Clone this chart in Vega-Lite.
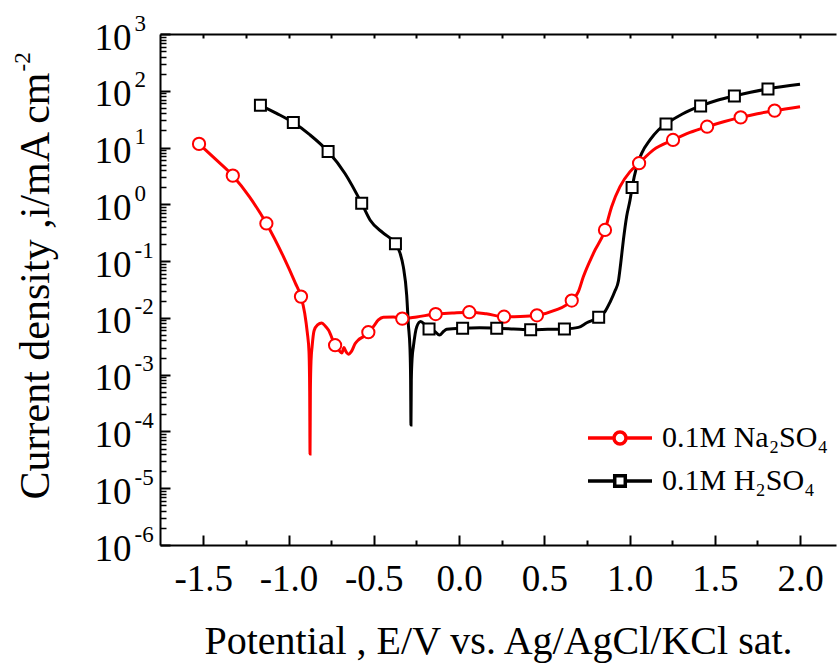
{
  "$schema": "https://vega.github.io/schema/vega-lite/v6.json",
  "width": 676,
  "height": 511,
  "autosize": {"type": "none"},
  "padding": {"left": 160, "top": 34, "right": 1, "bottom": 121},
  "background": "white",
  "config": {
    "view": {"stroke": null},
    "font": "Liberation Serif",
    "axis": {
      "grid": false,
      "domainColor": "black",
      "tickColor": "black",
      "labelColor": "black",
      "titleColor": "black",
      "labelFont": "Liberation Serif",
      "titleFont": "Liberation Serif",
      "titleFontWeight": "normal",
      "domainWidth": 2,
      "tickWidth": 2,
      "labelFlush": false,
      "labelOverlap": false
    },
    "legend": {"labelFont": "Liberation Serif", "labelColor": "black"}
  },
  "data": {
    "values": [
      {"s": "Na", "E": -1.525, "i": 11.6, "m": 1},
      {"s": "Na", "E": -1.43, "i": 6.3, "m": 0},
      {"s": "Na", "E": -1.327, "i": 3.2, "m": 1},
      {"s": "Na", "E": -1.23, "i": 1.37, "m": 0},
      {"s": "Na", "E": -1.13, "i": 0.46, "m": 1},
      {"s": "Na", "E": -1.03, "i": 0.12, "m": 0},
      {"s": "Na", "E": -0.96, "i": 0.041, "m": 0},
      {"s": "Na", "E": -0.927, "i": 0.0237, "m": 1},
      {"s": "Na", "E": -0.905, "i": 0.012, "m": 0},
      {"s": "Na", "E": -0.89, "i": 0.0055, "m": 0},
      {"s": "Na", "E": -0.88, "i": 0.0025, "m": 0},
      {"s": "Na", "E": -0.876, "i": 0.0005, "m": 0},
      {"s": "Na", "E": -0.874, "i": 0.00004, "m": 0},
      {"s": "Na", "E": -0.872, "i": 0.0005, "m": 0},
      {"s": "Na", "E": -0.868, "i": 0.0018, "m": 0},
      {"s": "Na", "E": -0.862, "i": 0.0031, "m": 0},
      {"s": "Na", "E": -0.85, "i": 0.006, "m": 0},
      {"s": "Na", "E": -0.83, "i": 0.0075, "m": 0},
      {"s": "Na", "E": -0.805, "i": 0.0081, "m": 0},
      {"s": "Na", "E": -0.785, "i": 0.0072, "m": 0},
      {"s": "Na", "E": -0.766, "i": 0.0061, "m": 0},
      {"s": "Na", "E": -0.727, "i": 0.0033, "m": 1},
      {"s": "Na", "E": -0.705, "i": 0.0027, "m": 0},
      {"s": "Na", "E": -0.688, "i": 0.0024, "m": 0},
      {"s": "Na", "E": -0.675, "i": 0.003, "m": 0},
      {"s": "Na", "E": -0.665, "i": 0.0026, "m": 0},
      {"s": "Na", "E": -0.649, "i": 0.0023, "m": 0},
      {"s": "Na", "E": -0.63, "i": 0.0026, "m": 0},
      {"s": "Na", "E": -0.61, "i": 0.0035, "m": 0},
      {"s": "Na", "E": -0.59, "i": 0.0041, "m": 0},
      {"s": "Na", "E": -0.56, "i": 0.0047, "m": 0},
      {"s": "Na", "E": -0.532, "i": 0.0056, "m": 1},
      {"s": "Na", "E": -0.503, "i": 0.007, "m": 0},
      {"s": "Na", "E": -0.473, "i": 0.0092, "m": 0},
      {"s": "Na", "E": -0.444, "i": 0.0103, "m": 0},
      {"s": "Na", "E": -0.385, "i": 0.0104, "m": 0},
      {"s": "Na", "E": -0.333, "i": 0.0097, "m": 1},
      {"s": "Na", "E": -0.248, "i": 0.0104, "m": 0},
      {"s": "Na", "E": -0.137, "i": 0.0117, "m": 1},
      {"s": "Na", "E": -0.04, "i": 0.0122, "m": 0},
      {"s": "Na", "E": 0.06, "i": 0.0126, "m": 1},
      {"s": "Na", "E": 0.16, "i": 0.0118, "m": 0},
      {"s": "Na", "E": 0.264, "i": 0.0105, "m": 1},
      {"s": "Na", "E": 0.36, "i": 0.0106, "m": 0},
      {"s": "Na", "E": 0.457, "i": 0.0111, "m": 1},
      {"s": "Na", "E": 0.56, "i": 0.0135, "m": 0},
      {"s": "Na", "E": 0.661, "i": 0.0202, "m": 1},
      {"s": "Na", "E": 0.7, "i": 0.029, "m": 0},
      {"s": "Na", "E": 0.729, "i": 0.053, "m": 0},
      {"s": "Na", "E": 0.788, "i": 0.137, "m": 0},
      {"s": "Na", "E": 0.856, "i": 0.354, "m": 1},
      {"s": "Na", "E": 0.895, "i": 0.91, "m": 0},
      {"s": "Na", "E": 0.944, "i": 2.05, "m": 0},
      {"s": "Na", "E": 1.003, "i": 3.77, "m": 0},
      {"s": "Na", "E": 1.056, "i": 5.3, "m": 1},
      {"s": "Na", "E": 1.14, "i": 9.1, "m": 0},
      {"s": "Na", "E": 1.255, "i": 13.6, "m": 1},
      {"s": "Na", "E": 1.355, "i": 18.5, "m": 0},
      {"s": "Na", "E": 1.455, "i": 23.3, "m": 1},
      {"s": "Na", "E": 1.552, "i": 28.5, "m": 0},
      {"s": "Na", "E": 1.652, "i": 34, "m": 1},
      {"s": "Na", "E": 1.75, "i": 39.5, "m": 0},
      {"s": "Na", "E": 1.851, "i": 44.7, "m": 1},
      {"s": "Na", "E": 2.0, "i": 52.5, "m": 0},
      {"s": "H", "E": -1.165, "i": 55.5, "m": 1},
      {"s": "H", "E": -1.07, "i": 40, "m": 0},
      {"s": "H", "E": -0.972, "i": 27.5, "m": 1},
      {"s": "H", "E": -0.874, "i": 16.7, "m": 0},
      {"s": "H", "E": -0.768, "i": 8.5, "m": 1},
      {"s": "H", "E": -0.669, "i": 3.5, "m": 0},
      {"s": "H", "E": -0.571, "i": 1.04, "m": 1},
      {"s": "H", "E": -0.522, "i": 0.53, "m": 0},
      {"s": "H", "E": -0.444, "i": 0.31, "m": 0},
      {"s": "H", "E": -0.373, "i": 0.203, "m": 1},
      {"s": "H", "E": -0.346, "i": 0.138, "m": 0},
      {"s": "H", "E": -0.327, "i": 0.08, "m": 0},
      {"s": "H", "E": -0.307, "i": 0.025, "m": 0},
      {"s": "H", "E": -0.297, "i": 0.0075, "m": 0},
      {"s": "H", "E": -0.288, "i": 0.003, "m": 0},
      {"s": "H", "E": -0.284, "i": 0.0008, "m": 0},
      {"s": "H", "E": -0.282, "i": 0.00013, "m": 0},
      {"s": "H", "E": -0.28, "i": 0.0008, "m": 0},
      {"s": "H", "E": -0.275, "i": 0.002, "m": 0},
      {"s": "H", "E": -0.268, "i": 0.0031, "m": 0},
      {"s": "H", "E": -0.248, "i": 0.007, "m": 0},
      {"s": "H", "E": -0.225, "i": 0.0086, "m": 0},
      {"s": "H", "E": -0.199, "i": 0.0075, "m": 0},
      {"s": "H", "E": -0.176, "i": 0.0064, "m": 1},
      {"s": "H", "E": -0.14, "i": 0.0057, "m": 0},
      {"s": "H", "E": -0.115, "i": 0.005, "m": 0},
      {"s": "H", "E": -0.09, "i": 0.0058, "m": 0},
      {"s": "H", "E": -0.072, "i": 0.0063, "m": 0},
      {"s": "H", "E": 0.021, "i": 0.0066, "m": 1},
      {"s": "H", "E": 0.12, "i": 0.0067, "m": 0},
      {"s": "H", "E": 0.221, "i": 0.0066, "m": 1},
      {"s": "H", "E": 0.32, "i": 0.0064, "m": 0},
      {"s": "H", "E": 0.42, "i": 0.0062, "m": 1},
      {"s": "H", "E": 0.52, "i": 0.0063, "m": 0},
      {"s": "H", "E": 0.618, "i": 0.0064, "m": 1},
      {"s": "H", "E": 0.7, "i": 0.0068, "m": 0},
      {"s": "H", "E": 0.749, "i": 0.0082, "m": 0},
      {"s": "H", "E": 0.819, "i": 0.0103, "m": 1},
      {"s": "H", "E": 0.856, "i": 0.0129, "m": 0},
      {"s": "H", "E": 0.886, "i": 0.019, "m": 0},
      {"s": "H", "E": 0.915, "i": 0.03, "m": 0},
      {"s": "H", "E": 0.935, "i": 0.045, "m": 0},
      {"s": "H", "E": 0.948, "i": 0.09, "m": 0},
      {"s": "H", "E": 0.964, "i": 0.236, "m": 0},
      {"s": "H", "E": 0.983, "i": 0.61, "m": 0},
      {"s": "H", "E": 1.003, "i": 1.19, "m": 0},
      {"s": "H", "E": 1.015, "i": 1.97, "m": 1},
      {"s": "H", "E": 1.042, "i": 4.6, "m": 0},
      {"s": "H", "E": 1.071, "i": 7.9, "m": 0},
      {"s": "H", "E": 1.12, "i": 13.6, "m": 0},
      {"s": "H", "E": 1.169, "i": 20.4, "m": 0},
      {"s": "H", "E": 1.214, "i": 26, "m": 1},
      {"s": "H", "E": 1.31, "i": 39, "m": 0},
      {"s": "H", "E": 1.417, "i": 54, "m": 1},
      {"s": "H", "E": 1.515, "i": 68, "m": 0},
      {"s": "H", "E": 1.615, "i": 81, "m": 1},
      {"s": "H", "E": 1.71, "i": 94, "m": 0},
      {"s": "H", "E": 1.812, "i": 108, "m": 1},
      {"s": "H", "E": 2.0, "i": 130, "m": 0}
    ]
  },
  "resolve": {"axis": {"x": "independent", "y": "independent"}},
  "layer": [
    {
      "mark": {"type": "line", "strokeWidth": 3, "interpolate": "monotone", "clip": true},
      "encoding": {
        "x": {
          "field": "E", "type": "quantitative",
          "scale": {"domain": [-1.754, 2.211], "nice": false, "zero": false},
          "axis": {
            "orient": "bottom",
            "values": [-1.5, -1, -0.5, 0, 0.5, 1, 1.5, 2],
            "labelExpr": "replace(format(datum.value, '.1f'), '\u2212', '-')",
            "tickSize": -10,
            "labelFontSize": 37,
            "labelPadding": 26,
            "title": "Potential , E/V vs. Ag/AgCl/KCl sat.",
            "titleFontSize": 40,
            "titleBaseline": "alphabetic",
            "titleY": 108
          }
        },
        "y": {
          "field": "i", "type": "quantitative",
          "scale": {"type": "log", "domain": [0.000001, 1000], "nice": false},
          "axis": {
            "orient": "left",
            "values": [0.000001, 0.00001, 0.0001, 0.001, 0.01, 0.1, 1, 10, 100, 1000],
            "labelExpr": "'10'",
            "tickSize": -10,
            "labelFontSize": 37,
            "labelAlign": "right",
            "labelBaseline": "alphabetic",
            "labelOffset": 15,
            "labelPadding": 39,
            "title": "Current density ,i/mA cm",
            "titleFontSize": 42,
            "titleAngle": -90,
            "titleAlign": "right",
            "titleBaseline": "alphabetic",
            "titleX": -112,
            "titleY": 38
          }
        },
        "color": {
          "field": "s", "type": "nominal",
          "scale": {"domain": ["Na", "H"], "range": ["#ff0000", "#000000"]},
          "legend": {
            "orient": "none",
            "legendX": 442,
            "legendY": 386,
            "title": null,
            "padding": 0,
            "symbolSize": 1024,
            "symbolStrokeWidth": 3.5,
            "labelFontSize": 30,
            "labelOffset": 24,
            "labelLimit": 0,
            "rowPadding": 10,
            "labelExpr": "datum.value == 'Na' ? '0.1M Na\u2082SO\u2084' : '0.1M H\u2082SO\u2084'",
            "encode": {
              "symbols": {
                "update": {
                  "shape": {"signal": "datum.value == 'Na' ? 'M-2,0L-0.375,0M0.375,0L2,0M-0.375,0A0.375,0.375,0,1,1,0.375,0A0.375,0.375,0,1,1,-0.375,0Z' : 'M-2,0L-0.33,0M0.33,0L2,0M-0.33,-0.33L0.33,-0.33L0.33,0.33L-0.33,0.33Z'"},
                  "fill": {"value": "white"},
                  "fillOpacity": {"value": 1}
                }
              }
            }
          }
        }
      }
    },
    {
      "transform": [{"filter": "datum.m == 1 && datum.s == 'Na'"}],
      "mark": {"type": "point", "shape": "circle", "filled": true, "fill": "white", "stroke": "#ff0000", "strokeWidth": 2, "size": 150, "opacity": 1, "clip": true},
      "encoding": {
        "x": {
          "field": "E", "type": "quantitative",
          "scale": {"domain": [-1.754, 2.211], "nice": false, "zero": false},
          "axis": {
            "orient": "top",
            "values": [-1.5, -1.25, -1, -0.75, -0.5, -0.25, 0, 0.25, 0.5, 0.75, 1, 1.25, 1.5, 1.75, 2],
            "tickSize": -4,
            "labels": false,
            "title": null
          }
        },
        "y": {
          "field": "i", "type": "quantitative",
          "scale": {"type": "log", "domain": [0.000001, 1000], "nice": false},
          "axis": {
            "orient": "left",
            "values": [0.000001, 0.00001, 0.0001, 0.001, 0.01, 0.1, 1, 10, 100, 1000],
            "labelExpr": "'' + round(log(datum.value) / LN10)",
            "ticks": false,
            "tickSize": 0,
            "domain": false,
            "labelFontSize": 23,
            "labelAlign": "left",
            "labelBaseline": "alphabetic",
            "labelOffset": -4,
            "labelPadding": 26,
            "title": "-2",
            "titleFontSize": 23,
            "titleAngle": -90,
            "titleAlign": "left",
            "titleBaseline": "alphabetic",
            "titleX": -131,
            "titleY": 37
          }
        }
      }
    },
    {
      "transform": [{"filter": "datum.m == 1 && datum.s == 'H'"}],
      "mark": {"type": "point", "shape": "square", "filled": true, "fill": "white", "stroke": "#000000", "strokeWidth": 2, "size": 121, "opacity": 1, "clip": true},
      "encoding": {
        "x": {
          "field": "E", "type": "quantitative",
          "scale": {"domain": [-1.754, 2.211], "nice": false, "zero": false},
          "axis": null
        },
        "y": {
          "field": "i", "type": "quantitative",
          "scale": {"type": "log", "domain": [0.000001, 1000], "nice": false},
          "axis": null
        }
      }
    },
    {
      "mark": {"type": "point", "opacity": 0},
      "encoding": {
        "x": {
          "field": "E", "type": "quantitative",
          "scale": {"domain": [-1.754, 2.211], "nice": false, "zero": false},
          "axis": {
            "orient": "bottom",
            "values": [-1.25, -0.75, -0.25, 0.25, 0.75, 1.25, 1.75],
            "tickSize": -5,
            "labels": false,
            "domain": false,
            "title": null
          }
        },
        "y": {
          "field": "i", "type": "quantitative",
          "scale": {"type": "log", "domain": [0.000001, 1000], "nice": false},
          "axis": {
            "orient": "left",
            "values": [2e-6, 3e-6, 4e-6, 5e-6, 6e-6, 7e-6, 8e-6, 9e-6,
                       2e-5, 3e-5, 4e-5, 5e-5, 6e-5, 7e-5, 8e-5, 9e-5,
                       2e-4, 3e-4, 4e-4, 5e-4, 6e-4, 7e-4, 8e-4, 9e-4,
                       2e-3, 3e-3, 4e-3, 5e-3, 6e-3, 7e-3, 8e-3, 9e-3,
                       0.02, 0.03, 0.04, 0.05, 0.06, 0.07, 0.08, 0.09,
                       0.2, 0.3, 0.4, 0.5, 0.6, 0.7, 0.8, 0.9,
                       2, 3, 4, 5, 6, 7, 8, 9,
                       20, 30, 40, 50, 60, 70, 80, 90,
                       200, 300, 400, 500, 600, 700, 800, 900],
            "tickSize": -6,
            "tickWidth": 1.5,
            "labels": false,
            "domain": false,
            "title": null
          }
        }
      }
    }
  ]
}
